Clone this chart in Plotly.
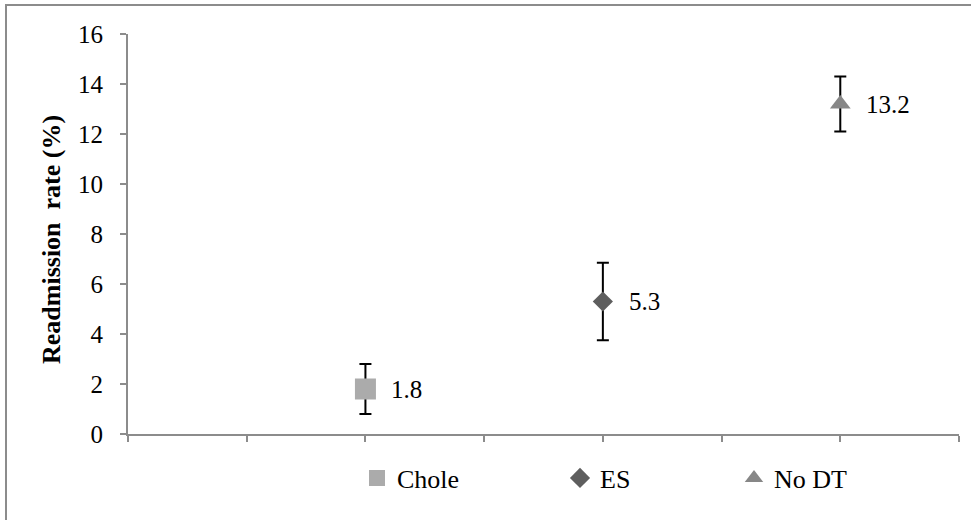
import plotly.graph_objects as go

# ---- data ----
categories = ["Chole", "ES", "No DT"]
x_values = [2, 4, 6]
rates = [1.8, 5.3, 13.2]
errors = [1.0, 1.55, 1.1]
label_texts = ["1.8", "5.3", "13.2"]
y_ticks = [0, 2, 4, 6, 8, 10, 12, 14, 16]

symbols = ["square", "diamond", "triangle-up"]
colors = ["#ABABAB", "#5E5E5E", "#878787"]
sizes = [21, 15.5, 18]
legend_ids = ["legend", "legend2", "legend3"]
legend_x_px = [357, 560, 734]

FONT = "'Liberation Serif', 'Times New Roman', 'DejaVu Serif', serif"
W, H = 971, 520
ML, MR, MT, MB = 128, 12, 34, 86
PW = W - ML - MR
PH = H - MT - MB

fig = go.Figure()
for i, cat in enumerate(categories):
    fig.add_trace(go.Scatter(
        x=[x_values[i]], y=[rates[i]],
        mode="markers",
        name=cat,
        marker=dict(symbol=symbols[i], color=colors[i], size=sizes[i], line=dict(width=0)),
        error_y=dict(type="data", array=[errors[i]], visible=True,
                     color="black", thickness=2, width=6),
        legend=legend_ids[i],
        showlegend=True,
        hoverinfo="skip",
    ))

annotations = []
for i in range(len(categories)):
    annotations.append(dict(
        x=x_values[i], y=rates[i], xref="x", yref="y",
        text=label_texts[i], showarrow=False,
        xanchor="left", yanchor="middle", xshift=24,
        font=dict(family=FONT, size=25, color="black"),
    ))

annotations.append(dict(
    x=(51 - ML) / PW, y=(MT + PH - 240) / PH, xref="paper", yref="paper",
    text="<b>Readmission  rate (%)</b>", showarrow=False, textangle=-90,
    xanchor="center", yanchor="middle",
    font=dict(family=FONT, size=26, color="black"),
))

legends = {}
for i, lid in enumerate(legend_ids):
    legends[lid] = dict(
        orientation="h",
        x=(legend_x_px[i] - ML) / PW, xanchor="left",
        y=(MT + PH - 478) / PH, yanchor="middle",
        font=dict(family=FONT, size=26, color="black"),
        bgcolor="rgba(0,0,0,0)", borderwidth=0,
        itemsizing="trace",
    )

fig.update_layout(
    width=W, height=H,
    margin=dict(l=ML, r=MR, t=MT, b=MB, pad=0),
    paper_bgcolor="white", plot_bgcolor="white",
    font=dict(family=FONT, size=25, color="black"),
    xaxis=dict(range=[0, 7], tickmode="linear", tick0=0, dtick=1,
               showticklabels=False, ticks="outside", ticklen=6, tickwidth=2,
               tickcolor="#8C8C8C", showline=True, linecolor="#8C8C8C", linewidth=2,
               showgrid=False, zeroline=False, fixedrange=True),
    yaxis=dict(range=[0, 16], tickmode="array", tickvals=y_ticks,
               ticktext=[str(v) for v in y_ticks],
               ticks="outside", ticklen=6, tickwidth=2, tickcolor="#8C8C8C",
               showline=True, linecolor="#8C8C8C", linewidth=2,
               showgrid=False, zeroline=False, ticklabelstandoff=12,
               tickfont=dict(family=FONT, size=25, color="black"), fixedrange=True),
    annotations=annotations,
    shapes=[dict(type="rect", xref="paper", yref="paper",
                 x0=(6 - ML) / PW, x1=(W + 20 - ML) / PW,
                 y0=(MT + PH - (H + 20)) / PH, y1=(MT + PH - 5) / PH,
                 line=dict(color="#8C8C8C", width=2), fillcolor="rgba(0,0,0,0)",
                 layer="above")],
    showlegend=True,
    hovermode=False,
    **legends,
)

fig.write_html(
    "out.html",
    config={"displayModeBar": False},
    post_script="document.body.style.margin='0';document.body.style.overflow='hidden';",
)
